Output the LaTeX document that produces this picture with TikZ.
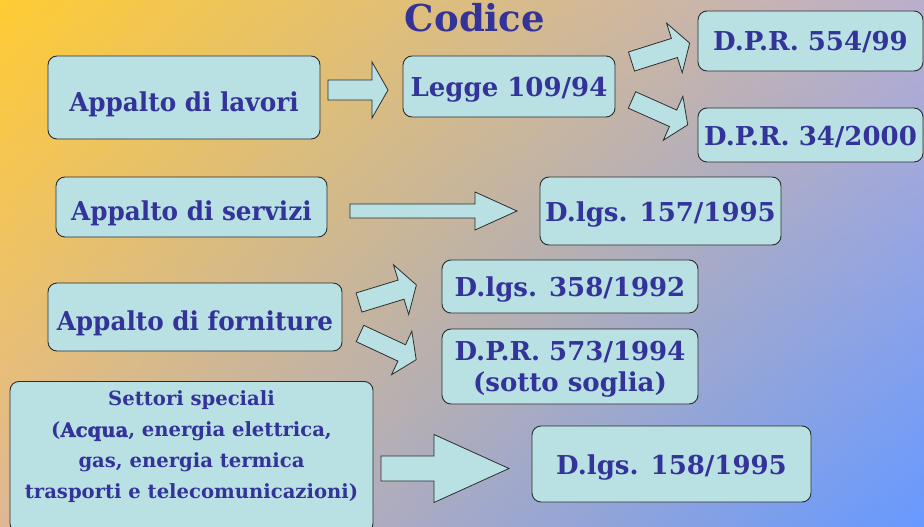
\documentclass[tikz,border=0pt]{standalone}
\usepackage{fontspec}
\setmainfont{DejaVu Serif}
\newfontfamily\acquafont{DejaVu Serif Bold}[FakeBold=1.5]
\usepackage{tikz}
\usetikzlibrary{shadings}

\definecolor{boxfill}{RGB}{185,224,227}
\definecolor{boxline}{RGB}{45,45,45}
\definecolor{txtblue}{RGB}{51,51,153}
\definecolor{bgul}{RGB}{255,204,51}
\definecolor{bgur}{RGB}{186,174,206}
\definecolor{bgll}{RGB}{222,184,150}
\definecolor{bglr}{RGB}{102,153,255}

\begin{document}
\begin{tikzpicture}[x=1pt, y=-1pt,
    box/.style={draw=boxline, line width=0.9pt, fill=boxfill, rounded corners=9pt, inner sep=0pt, align=center, text=txtblue, font=\bfseries\fontsize{26}{31}\selectfont},
    oneline/.style={text height=20pt, text depth=0pt},
    appalto/.style={text height=27pt, text depth=0pt, font=\bfseries\fontsize{26}{31}\selectfont\addfontfeatures{FakeStretch=0.95}},
    spectext/.style={text=txtblue, inner sep=0pt, align=center, font=\bfseries\fontsize{19.6}{31}\selectfont},
    title/.style={text=txtblue, inner sep=0pt, font=\bfseries\fontsize{37}{40}\selectfont},
    arrowbody/.style={draw=boxline, line width=0.8pt, fill=boxfill, line join=miter},
    pics/blockarrow/.style n args={4}{code={
        \draw[arrowbody] (0,-#3/2) -- (#1-#2,-#3/2) -- (#1-#2,-#4/2) -- (#1,0) -- (#1-#2,#4/2) -- (#1-#2,#3/2) -- (0,#3/2) -- cycle;
    }}
]
    \path[use as bounding box] (0,0) rectangle (924,527);
    \clip (0,0) rectangle (924,527);
    \shade[upper left=bgul, upper right=bgur, lower left=bgll, lower right=bglr] (0,0) rectangle (924,527);

    \node[title, anchor=base] (title) at (475,32) {Codice};

    \node[box, appalto, minimum width=272pt, minimum height=83pt] (lavori) at (184,97.5) {Appalto di lavori};
    \node[box, oneline, minimum width=212pt, minimum height=61pt] (legge) at (509,86.5) {Legge 109/94};
    \node[box, oneline, minimum width=225pt, minimum height=60pt] (dpr554) at (810.5,41) {D.P.R. 554/99};
    \node[box, oneline, minimum width=225pt, minimum height=54pt] (dpr34) at (810.5,135) {D.P.R. 34/2000};

    \node[box, appalto, minimum width=271pt, minimum height=60pt] (servizi) at (191.5,207) {Appalto di servizi};
    \node[box, oneline, minimum width=241pt, minimum height=68pt] (dlgs157) at (660.5,211) {D.lgs. 157/1995};

    \node[box, appalto, minimum width=294pt, minimum height=68pt] (forniture) at (195,317) {Appalto di forniture};
    \node[box, oneline, minimum width=256pt, minimum height=53pt] (dlgs358) at (570,286.5) {D.lgs. 358/1992};
    \node[box, minimum width=256pt, minimum height=75pt] (dpr573) at (570,366.5) {\rule{0pt}{24pt}D.P.R. 573/1994\\(sotto soglia)};

    \node[box, minimum width=363pt, minimum height=151pt, anchor=north] (speciali) at (191.5,381) {};
    \node[spectext] (specialitxt) at (191.5,447) {Settori speciali\\({\acquafont\mdseries Acqua}, energia elettrica,\\gas, energia termica\\trasporti e telecomunicazioni)};
    \node[box, oneline, minimum width=279pt, minimum height=76pt] (dlgs158) at (671.5,464) {D.lgs. 158/1995};

    % frecce
    \pic (lavtoleg) at (328,90) {blockarrow={60}{16}{20}{56}};
    \pic[rotate=17.5] (legtodpra) at (631.5,61.5) {blockarrow={61}{16}{20}{52}};
    \pic[rotate=-24] (legtodprb) at (632,100) {blockarrow={61}{16}{18}{48}};
    \pic (sertodlgs) at (350,211) {blockarrow={167}{42}{14}{38}};
    \pic[rotate=17] (fortodlgs) at (359,302.5) {blockarrow={60}{16}{20}{52}};
    \pic[rotate=-25] (fortodpr) at (360,333.5) {blockarrow={62}{16}{18}{48}};
    \pic (spetodlgs) at (381,468.5) {blockarrow={128}{75}{25}{68}};
\end{tikzpicture}
\end{document}
